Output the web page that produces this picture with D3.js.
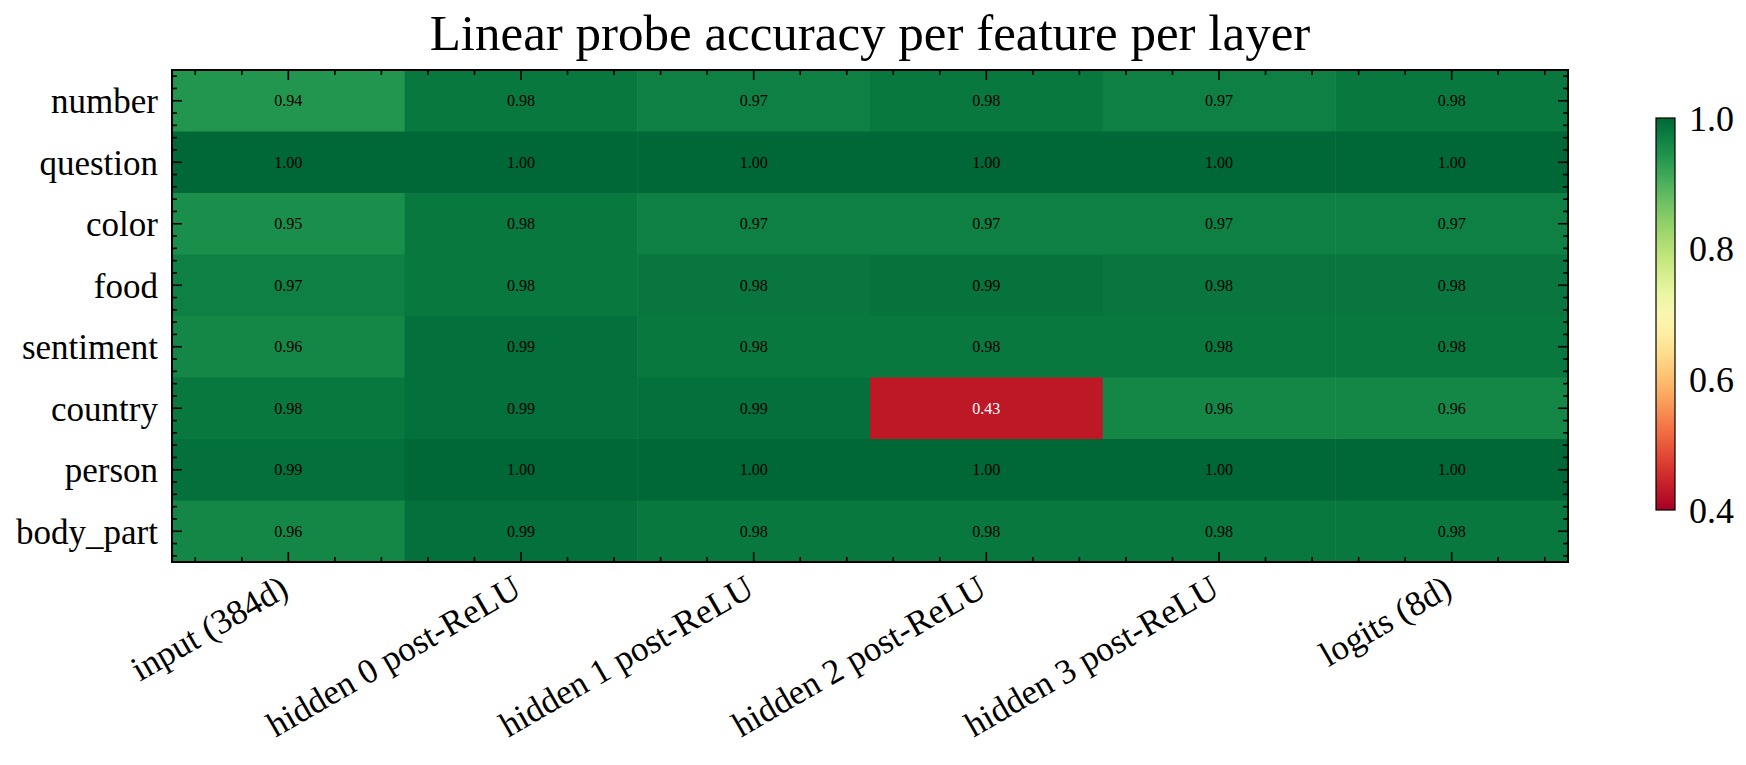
<!DOCTYPE html>
<html>
<head>
<meta charset="utf-8">
<script src="https://cdn.jsdelivr.net/npm/d3@7"></script>
<style>
  body { margin: 0; background: #fff; }
  svg text { font-family: "Liberation Serif", "DejaVu Serif", serif; }
</style>
</head>
<body>
<div id="chart"></div>
<script>
'use strict';
// layers on the x axis, features on the y axis
const layers = ["input (384d)", "hidden 0 post-ReLU", "hidden 1 post-ReLU", "hidden 2 post-ReLU", "hidden 3 post-ReLU", "logits (8d)"];
const features = ["number", "question", "color", "food", "sentiment", "country", "person", "body_part"];

// accuracy per feature (rows) per layer (columns)
const accNumber    = [0.94, 0.98, 0.97, 0.98, 0.97, 0.98];
const accQuestion  = [1.00, 1.00, 1.00, 1.00, 1.00, 1.00];
const accColor     = [0.95, 0.98, 0.97, 0.97, 0.97, 0.97];
const accFood      = [0.97, 0.98, 0.983, 0.986, 0.983, 0.983];
const accSentiment = [0.96, 0.99, 0.98, 0.98, 0.98, 0.98];
const accCountry   = [0.98, 0.99, 0.99, 0.43, 0.96, 0.96];
const accPerson    = [0.99, 1.00, 1.00, 1.00, 1.00, 1.00];
const accBodyPart  = [0.96, 0.99, 0.98, 0.98, 0.98, 0.98];

const colorTicks = [0.4, 0.6, 0.8, 1.0];
const rows = [accNumber, accQuestion, accColor, accFood, accSentiment, accCountry, accPerson, accBodyPart];

const W = 1746, H = 765;
const plot = { left: 172, right: 1568, top: 70, bottom: 562 };
const cbar = { left: 1656, right: 1675, top: 118, bottom: 510 };

const svg = d3.select("#chart").append("svg")
  .attr("width", W).attr("height", H);

const x = d3.scaleBand().domain(layers).range([plot.left, plot.right]);
const y = d3.scaleBand().domain(features).range([plot.top, plot.bottom]);
// continuous versions for minor ticks
const xl = d3.scaleLinear().domain([-0.5, layers.length - 0.5]).range([plot.left, plot.right]);
const yl = d3.scaleLinear().domain([-0.5, features.length - 0.5]).range([plot.top, plot.bottom]);
const color = d3.scaleSequential(d3.interpolateRdYlGn).domain([0.4, 1.0]);

let cells = [];
rows.forEach(function (r, i) {
  r.forEach(function (v, j) {
    cells.push({ feature: features[i], layer: layers[j], value: v });
  });
});

svg.append("g").selectAll("rect")
  .data(cells).enter().append("rect")
  .attr("x", d => x(d.layer))
  .attr("y", d => y(d.feature))
  .attr("width", x.bandwidth() + 0.5)
  .attr("height", y.bandwidth() + 0.5)
  .attr("fill", d => color(d.value));

svg.append("g").selectAll("text")
  .data(cells).enter().append("text")
  .attr("x", d => x(d.layer) + x.bandwidth() / 2)
  .attr("y", d => y(d.feature) + y.bandwidth() / 2)
  .attr("dy", "0.35em")
  .attr("text-anchor", "middle")
  .attr("font-size", 16)
  .attr("fill", d => d.value < 0.6 ? "#fff" : "#000")
  .text(d => d.value.toFixed(2));

// ticks, inward on all four sides
const minorX = d3.range(-0.4, layers.length - 0.5, 0.2).filter(v => Math.abs(v - Math.round(v)) > 0.01);
const minorY = d3.range(-0.4, features.length - 0.5, 0.2).filter(v => Math.abs(v - Math.round(v)) > 0.01);
const majX = d3.range(layers.length), majY = d3.range(features.length);
const ticks = svg.append("g").attr("stroke", "#000").attr("stroke-width", 1.6);
function tickLines(list, scale, len, orient) {
  list.forEach(function (v) {
    const p = scale(v);
    if (orient === "bottom") ticks.append("line").attr("x1", p).attr("x2", p).attr("y1", plot.bottom).attr("y2", plot.bottom - len);
    if (orient === "top") ticks.append("line").attr("x1", p).attr("x2", p).attr("y1", plot.top).attr("y2", plot.top + len);
    if (orient === "left") ticks.append("line").attr("y1", p).attr("y2", p).attr("x1", plot.left).attr("x2", plot.left + len);
    if (orient === "right") ticks.append("line").attr("y1", p).attr("y2", p).attr("x1", plot.right).attr("x2", plot.right - len);
  });
}
["bottom", "top"].forEach(function (o) { tickLines(majX, xl, 10, o); tickLines(minorX, xl, 5, o); });
["left", "right"].forEach(function (o) { tickLines(majY, yl, 10, o); tickLines(minorY, yl, 5, o); });

svg.append("rect")
  .attr("x", plot.left).attr("y", plot.top)
  .attr("width", plot.right - plot.left).attr("height", plot.bottom - plot.top)
  .attr("fill", "none").attr("stroke", "#000").attr("stroke-width", 2);

// y labels
svg.append("g").selectAll("text")
  .data(features).enter().append("text")
  .attr("x", plot.left - 14)
  .attr("y", d => y(d) + y.bandwidth() / 2)
  .attr("dy", "0.35em")
  .attr("text-anchor", "end")
  .attr("font-size", 35)
  .text(d => d);

// x labels, rotated
svg.append("g").selectAll("text")
  .data(layers).enter().append("text")
  .attr("transform", d => "translate(" + (x(d) + x.bandwidth() / 2 - 11) + "," + (plot.bottom + 10) + ") rotate(-30)")
  .attr("text-anchor", "end")
  .attr("dy", "0.75em")
  .attr("font-size", 35)
  .text(d => d);

svg.append("text")
  .attr("x", (plot.left + plot.right) / 2)
  .attr("y", 50)
  .attr("text-anchor", "middle")
  .attr("font-size", 51)
  .text("Linear probe accuracy per feature per layer");

// colorbar
const cy = d3.scaleLinear().domain([0.4, 1.0]).range([cbar.bottom, cbar.top]);
const defs = svg.append("defs");
const grad = defs.append("linearGradient").attr("id", "cbgrad")
  .attr("x1", 0).attr("y1", 1).attr("x2", 0).attr("y2", 0);
d3.range(0, 1.0001, 0.05).forEach(function (t) {
  grad.append("stop").attr("offset", t).attr("stop-color", color(0.4 + t * 0.6));
});
svg.append("rect")
  .attr("x", cbar.left).attr("y", cbar.top)
  .attr("width", cbar.right - cbar.left).attr("height", cbar.bottom - cbar.top)
  .attr("fill", "url(#cbgrad)").attr("stroke", "#000").attr("stroke-width", 1.2);
svg.append("g").selectAll("text")
  .data(colorTicks).enter().append("text")
  .attr("x", cbar.right + 14)
  .attr("y", d => cy(d))
  .attr("dy", "0.35em")
  .attr("font-size", 36)
  .text(d => d.toFixed(1));
</script>
</body>
</html>
